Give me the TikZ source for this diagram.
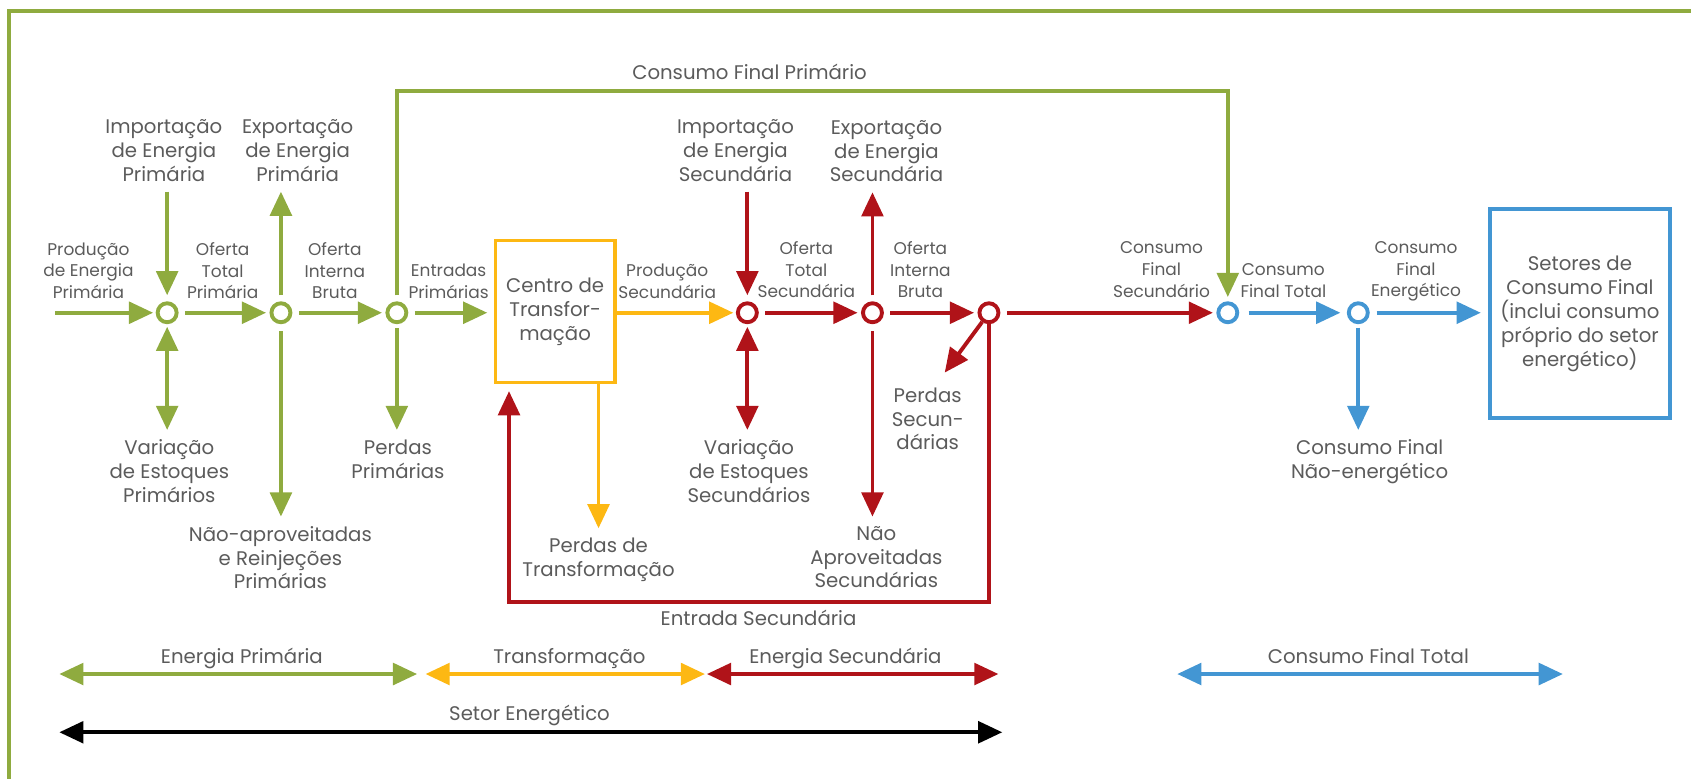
\documentclass[tikz,border=0pt]{standalone}
\usepackage{fontspec}
\setmainfont{Poppins}
\usetikzlibrary{arrows.meta}
\definecolor{verde}{HTML}{8FAB3F}
\definecolor{laranja}{HTML}{FDB813}
\definecolor{vermelho}{HTML}{B01319}
\definecolor{azul}{HTML}{4396D3}
\definecolor{cinza}{HTML}{5B5B5B}
\tikzset{
  >={Triangle[length=0.56cm,width=0.5cm]},
  flow/.style={line width=0.09cm},
  greenFlow/.style={flow,draw=verde},
  yellowFlow/.style={flow,draw=laranja},
  redFlow/.style={flow,draw=vermelho},
  blueFlow/.style={flow,draw=azul},
  gapIn/.style={shorten <=0.15cm,shorten >=0.08cm},
  junc/.style={circle,line width=0.09cm,minimum size=0.44cm,inner sep=0pt,fill=white},
  bigTxt/.style={text=cinza,align=center,font=\fontsize{13}{15.6}\selectfont,inner sep=0pt},
  smallTxt/.style={text=cinza,align=center,font=\fontsize{11.2}{14.2}\selectfont,inner sep=0pt},
  topLbl/.style={bigTxt,anchor=south,inner ysep=0.23cm},
  botLbl/.style={bigTxt,anchor=north,inner ysep=0.22cm},
  boxed/.style={rectangle,line width=0.085cm,text=cinza,align=center,font=\fontsize{13}{15.8}\selectfont}
}
\begin{document}
\begin{tikzpicture}[x=0.025cm,y=-0.025cm]
\useasboundingbox (0,0) rectangle (1568,722);
% Frame
\draw[draw=verde,line width=0.09cm] (8,740) -- (8,10) -- (1590,10);
% Primary
\node[junc,draw=verde] (p1) at (155,290) {};
\node[junc,draw=verde] (p2) at (260.5,290) {};
\node[junc,draw=verde] (p3) at (368,290) {};
\node[boxed,draw=laranja,minimum width=2.76cm,minimum height=3.29cm] (ctr) at (514.75,288.75) {Centro de\\Transfor-\\mação};
% Secondary
\node[junc,draw=vermelho] (s1) at (693,290) {};
\node[junc,draw=vermelho] (s2) at (809,290) {};
\node[junc,draw=vermelho] (s3) at (917,290) {};
% Final
\node[junc,draw=azul] (c1) at (1138.5,290) {};
\node[junc,draw=azul] (c2) at (1259.5,290) {};
\node[boxed,draw=azul,minimum width=4.17cm,minimum height=4.845cm] (sec) at (1465,290.7) {Setores de\\Consumo Final\\(inclui consumo\\próprio do setor\\energético)};
% Labels
\node[smallTxt] (prodP) at (82,251) {Produção\\de Energia\\Primária};
\node[topLbl] (impP) at (152,177.7) {Importação\\de Energia\\Primária};
\node[smallTxt] (oftP) at (206.5,251) {Oferta\\Total\\Primária};
\node[topLbl] (expP) at (276,177.7) {Exportação\\de Energia\\Primária};
\node[smallTxt] (oibP) at (310.5,251) {Oferta\\Interna\\Bruta};
\node[smallTxt] (entP) at (416,261) {Entradas\\Primárias};
\node[botLbl] (varP) at (157,398.7) {Variação\\de Estoques\\Primários};
\node[botLbl] (naoP) at (260,479) {Não-aproveitadas\\e Reinjeções\\Primárias};
\node[botLbl] (perP) at (369,398.7) {Perdas\\Primárias};
\node[bigTxt,anchor=south,inner ysep=0.24cm] (cfp) at (695,84) {Consumo Final Primário};
\node[smallTxt] (prodS) at (618.7,260.7) {Produção\\Secundária};
\node[botLbl] (perT) at (555,489.9) {Perdas de\\Transformação};
\node[topLbl] (impS) at (682,177.7) {Importação\\de Energia\\Secundária};
\node[smallTxt] (oftS) at (747.7,250) {Oferta\\Total\\Secundária};
\node[topLbl] (expS) at (822,178.3) {Exportação\\de Energia\\Secundária};
\node[smallTxt] (oibS) at (853.5,250) {Oferta\\Interna\\Bruta};
\node[botLbl] (varS) at (694.5,398.7) {Variação\\de Estoques\\Secundários};
\node[botLbl] (naoS) at (812.6,479) {Não\\Aproveitadas\\Secundárias};
\node[bigTxt] (perS) at (860.2,388.6) {Perdas\\Secun-\\dárias};
\node[bigTxt,anchor=base] (entS) at (703.4,580) {Entrada Secundária};
\node[smallTxt] (cfs) at (1077,250) {Consumo\\Final\\Secundário};
\node[smallTxt] (cft) at (1190,260.3) {Consumo\\Final Total};
\node[smallTxt] (cfe) at (1313,251.7) {Consumo\\Final\\Energético};
\node[botLbl] (cfne) at (1270,398.7) {Consumo Final\\Não-energético};
\coordinate (prodIn) at (51,290);
\coordinate (loopL) at (472,558.5);
\coordinate (perStip) at (876,345.5);
% Primary flows
\draw[greenFlow,->,shorten >=0.06cm] (prodIn) -- (p1);
\draw[greenFlow,->,gapIn] (p1) -- (p2);
\draw[greenFlow,->,gapIn] (p2) -- (p3);
\draw[greenFlow,->,shorten <=0.15cm,shorten >=0.15cm] (p3) -- (p3 -| ctr.west);
\draw[greenFlow,->,shorten >=0.14cm] (impP.south -| p1) -- (p1);
\draw[greenFlow,->,shorten <=0.14cm] (p2) -- (expP.south -| p2);
\draw[greenFlow,<->,shorten <=0.06cm] (p1) -- (varP.north -| p1);
\draw[greenFlow,->,shorten <=0.16cm] (p2) -- (naoP.north -| p2);
\draw[greenFlow,->,shorten <=0.09cm] (p3) -- (perP.north -| p3);
\draw[greenFlow,->,shorten <=0.14cm,shorten >=0.1cm] (p3) |- (cfp.south) -| (c1);
% Transformation
\draw[yellowFlow,->,shorten >=0.06cm] (ctr.east |- s1) -- (s1);
\draw[yellowFlow,->] (ctr.south -| perT.north) -- (perT.north);
% Secondary flows
\draw[redFlow,->,gapIn] (s1) -- (s2);
\draw[redFlow,->,gapIn] (s2) -- (s3);
\draw[redFlow,->,gapIn] (s3) -- (c1);
\draw[redFlow,->,shorten >=0.14cm] (impS.south -| s1) -- (s1);
\draw[redFlow,->,shorten <=0.14cm] (s2) -- (expS.south -| s2);
\draw[redFlow,<->,shorten <=0.06cm] (s1) -- (varS.north -| s1);
\draw[redFlow,->,shorten <=0.16cm] (s2) -- (naoS.north -| s2);
\draw[redFlow,->] (s3) -- (perStip);
\draw[redFlow,->,shorten >=0.16cm] (s3) |- (loopL) -- (loopL |- ctr.south);
% Final flows
\draw[blueFlow,->,shorten <=0.22cm,shorten >=0.15cm] (c1) -- (c2);
\draw[blueFlow,->,shorten <=0.16cm,shorten >=0.17cm] (c2) -- (c2 -| sec.west);
\draw[blueFlow,->,shorten <=0.08cm] (c2) -- (cfne.north -| c2);
% Legend
\coordinate (epA) at (55,625);
\coordinate (epB) at (386.8,625);
\coordinate (trA) at (394.6,625);
\coordinate (trB) at (653.7,625);
\coordinate (esA) at (655.5,625);
\coordinate (esB) at (925.8,625);
\coordinate (cfA) at (1091.6,625);
\coordinate (cfB) at (1449.2,625);
\coordinate (seA) at (55,679);
\coordinate (seB) at (929.4,679);
\draw[greenFlow,<->] (epA) -- (epB);
\draw[yellowFlow,<->] (trA) -- (trB);
\draw[redFlow,<->] (esA) -- (esB);
\draw[blueFlow,<->] (cfA) -- (cfB);
\draw[flow,draw=black,<->] (seA) -- (seB);
\node[bigTxt,anchor=base] (epT) at (224.3,615.4) {Energia Primária};
\node[bigTxt,anchor=base] (trT) at (528,615.4) {Transformação};
\node[bigTxt,anchor=base] (esT) at (783.9,615.4) {Energia Secundária};
\node[bigTxt,anchor=base] (cfT) at (1268.8,615.4) {Consumo Final Total};
\node[bigTxt,anchor=base] (seT) at (491,668.4) {Setor Energético};
\end{tikzpicture}
\end{document}
